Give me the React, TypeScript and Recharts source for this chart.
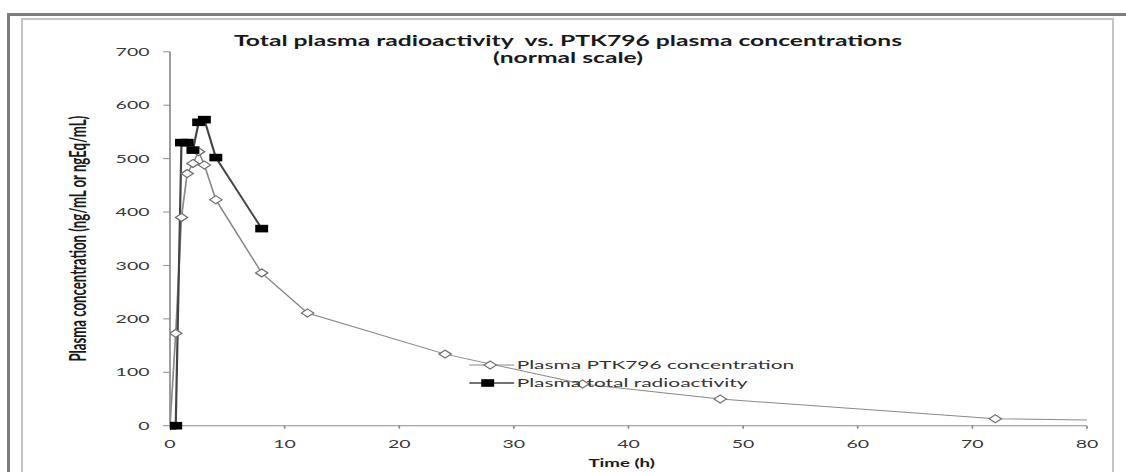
import React from 'react';
import { LineChart, Line, XAxis, YAxis, Legend } from 'recharts';

// Page size and horizontal stretch of the chart drawing
const PAGE_W = 1126;
const PAGE_H = 472;
const STRETCH = 1.7;
const CHART_W = PAGE_W / STRETCH;
const px = (x: number) => x / STRETCH;

const FONT = 'Lato, "Open Sans", "DejaVu Sans", sans-serif';

// Axis ticks
const timeTicks = [0, 10, 20, 30, 40, 50, 60, 70, 80];
const concTicks = [0, 100, 200, 300, 400, 500, 600, 700];

// Plasma PTK796 concentration (ng/mL)
const ptkTimes = [0, 0.5, 1, 1.5, 2, 2.5, 3, 4, 8, 12, 24, 36, 48, 72, 96];
const ptkConc = [0, 173, 390, 472, 491, 513, 488, 423, 286, 211, 134, 78, 50, 13, 6];

// Plasma total radioactivity (ngEq/mL)
const radTimes = [0, 0.5, 1, 1.5, 2, 2.5, 3, 4, 8];
const radConc = [0, 0, 530, 530, 516, 568, 573, 502, 369];

const seriesNames = ['Plasma PTK796 concentration', 'Plasma total radioactivity'];

const ptkData = ptkTimes.map((t, i) => ({ t, v: ptkConc[i] }));
const radData = radTimes.map((t, i) => ({ t, v: radConc[i] }));

const PTK_LINE = '#8a8a8a';
const RAD_LINE = '#454545';

const Diamond = ({ cx, cy }: { cx: number; cy: number }) => (
  <path
    d={`M${cx},${cy - 4} L${cx + 3.6},${cy} L${cx},${cy + 4} L${cx - 3.6},${cy} Z`}
    fill="#ffffff"
    stroke="#707070"
    strokeWidth={1}
  />
);

const Square = ({ cx, cy }: { cx: number; cy: number }) => (
  <rect x={cx - 3.8} y={cy - 3.8} width={7.6} height={7.6} fill="#000000" />
);

const LegendBlock = () => (
  <div style={{ fontFamily: FONT, fontSize: 12.3, color: '#333', lineHeight: '18px' }}>
    {seriesNames.map((name, i) => (
      <div key={name} style={{ display: 'flex', alignItems: 'center', whiteSpace: 'nowrap' }}>
        <svg width={px(45)} height={10} style={{ display: 'block' }}>
          <line
            x1={0}
            y1={5}
            x2={px(45)}
            y2={5}
            stroke={i === 0 ? PTK_LINE : RAD_LINE}
            strokeWidth={i === 0 ? 1 : 1.3}
          />
          {i === 0 ? <Diamond cx={px(21)} cy={5} /> : <Square cx={px(18.5)} cy={5} />}
        </svg>
        <span style={{ marginLeft: 1 }}>{name}</span>
      </div>
    ))}
  </div>
);

const YLabel = (props: any) => {
  const vb = props.viewBox || { y: 0, height: 0 };
  const cx = px(77);
  const cy = vb.y + vb.height / 2;
  return (
    <text
      x={cx}
      y={cy}
      transform={`rotate(-90 ${cx} ${cy})`}
      textAnchor="middle"
      dominantBaseline="central"
      fontFamily={FONT}
      fontSize={13.2}
      fontWeight={700}
      fill="#1a1a1a"
    >
      Plasma concentration (ng/mL or ngEq/mL)
    </text>
  );
};

export default function App() {
  const plotLeft = px(170);
  const plotRight = px(1087);
  const yAxisW = 60;
  return (
    <div
      style={{
        position: 'absolute',
        left: 0,
        top: 0,
        width: PAGE_W,
        height: PAGE_H,
        overflow: 'hidden',
        background: '#ffffff',
      }}
    >
      <div
        style={{
          position: 'absolute',
          left: 7,
          top: 13,
          width: 1140,
          height: 480,
          borderTop: '3px solid #7d7d7d',
          borderLeft: '3px solid #7d7d7d',
        }}
      />
      <div
        style={{
          position: 'absolute',
          left: 21,
          top: 18,
          width: 1093,
          height: 480,
          boxSizing: 'border-box',
          border: '2px solid #c4c4c4',
        }}
      />
      <div
        style={{
          position: 'absolute',
          left: 0,
          top: 0,
          width: CHART_W,
          height: PAGE_H,
          transform: `scaleX(${STRETCH})`,
          transformOrigin: '0 0',
        }}
      >
        <div
          style={{
            position: 'absolute',
            left: 0,
            top: 32,
            width: 2 * px(568),
            textAlign: 'center',
            fontFamily: FONT,
            fontWeight: 700,
            fontSize: 14.5,
            lineHeight: '17px',
            color: '#1a1a1a',
            zIndex: 2,
          }}
        >
          <div>Total plasma radioactivity&nbsp; vs. PTK796 plasma concentrations</div>
          <div>(normal scale)</div>
        </div>
        <LineChart
          width={CHART_W}
          height={PAGE_H}
          margin={{
            top: 51.8,
            right: CHART_W - plotRight,
            bottom: 16.3,
            left: plotLeft - yAxisW,
          }}
        >
          <XAxis
            dataKey="t"
            type="number"
            domain={[0, 80]}
            ticks={timeTicks}
            allowDataOverflow
            height={30}
            stroke="#8c8c8c"
            tickSize={3}
            tickMargin={11}
            tick={{ fontFamily: FONT, fontSize: 11.5, fill: '#3a3a3a' }}
            label={{
              value: 'Time (h)',
              position: 'bottom',
              offset: 3,
              dx: -4,
              style: { fontFamily: FONT, fontSize: 11, fontWeight: 700, fill: '#1a1a1a' },
            }}
          />
          <YAxis
            type="number"
            domain={[0, 700]}
            ticks={concTicks}
            width={yAxisW}
            stroke="#8c8c8c"
            tickSize={4}
            tickMargin={8}
            tick={{ fontFamily: FONT, fontSize: 11.5, fill: '#3a3a3a' }}
            label={{ content: YLabel }}
          />
          <Legend
            layout="vertical"
            align="center"
            verticalAlign="middle"
            content={() => <LegendBlock />}
            wrapperStyle={{ left: px(470), top: 356, width: 'auto' }}
          />
          <Line
            data={ptkData}
            dataKey="v"
            name={seriesNames[0]}
            stroke={PTK_LINE}
            strokeWidth={1}
            dot={(p: any) => <Diamond key={`p${p.index}`} cx={p.cx} cy={p.cy} />}
            activeDot={false}
            isAnimationActive={false}
          />
          <Line
            data={radData}
            dataKey="v"
            name={seriesNames[1]}
            stroke={RAD_LINE}
            strokeWidth={1.3}
            dot={(p: any) => <Square key={`r${p.index}`} cx={p.cx} cy={p.cy} />}
            activeDot={false}
            isAnimationActive={false}
          />
        </LineChart>
      </div>
    </div>
  );
}
